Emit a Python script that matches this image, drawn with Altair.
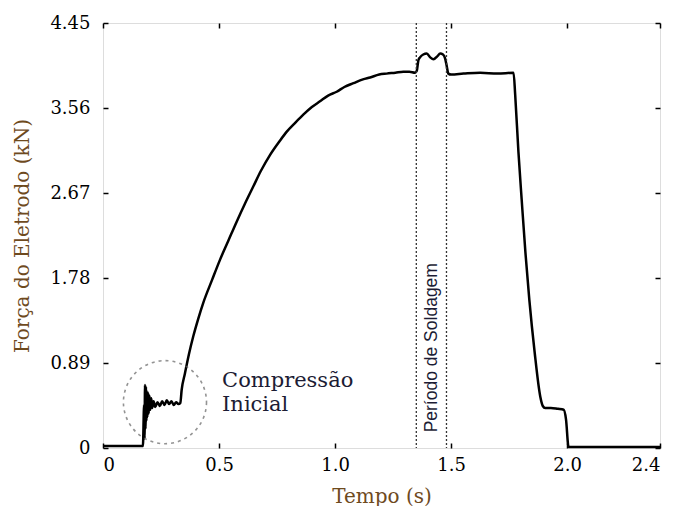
import altair as alt
import pandas as pd

# Force curve (time in s, force in kN)
time = [0.0, 0.10, 0.172, 0.177, 0.179, 0.181, 0.183, 0.185, 0.187, 0.189, 0.191, 0.194,
        0.197, 0.200, 0.204, 0.208, 0.212, 0.218, 0.225, 0.235, 0.245, 0.255, 0.265,
        0.275, 0.285, 0.295, 0.305, 0.315, 0.325, 0.333, 0.339, 0.353, 0.37, 0.389,
        0.41, 0.432, 0.47, 0.504, 0.54, 0.576, 0.61, 0.648, 0.68, 0.72, 0.76, 0.791,
        0.83, 0.863, 0.90, 0.935, 0.97, 1.007, 1.04, 1.079, 1.12, 1.151, 1.19, 1.222,
        1.26, 1.294, 1.32, 1.345, 1.352, 1.359, 1.366, 1.38, 1.395, 1.41, 1.424, 1.44,
        1.453, 1.465, 1.474, 1.481, 1.488, 1.50, 1.553, 1.625, 1.70, 1.769, 1.776,
        1.79, 1.804, 1.82, 1.837, 1.86, 1.884, 1.895, 1.905, 1.93, 1.96, 1.985, 1.995,
        2.006, 2.1, 2.2, 2.3, 2.4]
force = [0.02, 0.02, 0.02, 0.45, 0.10, 0.66, 0.20, 0.64, 0.28, 0.60, 0.32, 0.58,
         0.36, 0.55, 0.40, 0.52, 0.42, 0.49, 0.43, 0.48, 0.44, 0.49, 0.45,
         0.50, 0.46, 0.49, 0.45, 0.48, 0.46, 0.47, 0.61, 0.78, 0.98, 1.17,
         1.35, 1.52, 1.76, 1.97, 2.17, 2.37, 2.55, 2.74, 2.90, 3.07, 3.21, 3.31,
         3.41, 3.49, 3.57, 3.63, 3.69, 3.73, 3.78, 3.82, 3.86, 3.88, 3.91, 3.92,
         3.93, 3.94, 3.94, 3.93, 3.95, 4.06, 4.09, 4.12, 4.13, 4.09, 4.07, 4.10,
         4.13, 4.12, 4.08, 4.00, 3.92, 3.91, 3.92, 3.93, 3.92, 3.93, 3.70,
         3.10, 2.60, 2.05, 1.55, 1.00, 0.54, 0.44, 0.42, 0.42, 0.41, 0.40, 0.30,
         0.01, 0.01, 0.01, 0.01, 0.01]

# Welding period boundaries (s)
weld_bounds = [1.35, 1.48]

# Axis tick values
x_ticks = [0, 0.5, 1.0, 1.5, 2.0, 2.4]
y_ticks = [0, 0.89, 1.78, 2.67, 3.56, 4.45]

# Annotations
circle_t = [0.267]
circle_f = [0.48]
comp_lines = ["Compressão", "Inicial"]
comp_t = [0.513, 0.513]
comp_f = [0.70, 0.45]
weld_label = ["Período de Soldagem"]
weld_t = [1.418]
weld_f = [1.05]

curve = pd.DataFrame({"t": time, "f": force})
bounds = pd.DataFrame({"t": weld_bounds})
circ = pd.DataFrame({"t": circle_t, "f": circle_f})
comp = pd.DataFrame({"t": comp_t, "f": comp_f, "txt": comp_lines})
weld = pd.DataFrame({"t": weld_t, "f": weld_f, "txt": weld_label})

serif = "DejaVu Serif"
title_color = "#6e4a1e"
xs = alt.Scale(domain=[0, 2.4], nice=False, zero=False)
ys = alt.Scale(domain=[0, 4.45], nice=False, zero=False)

x_bottom = alt.Axis(values=x_ticks, labelExpr="datum.value == 0 ? '0' : format(datum.value, '.1f')",
                    offset=-5, tickSize=5, tickWidth=1.5, tickColor="black", domain=False, grid=False,
                    labelPadding=8, labelFont=serif, labelFontSize=18, labelColor="black",
                    title="Tempo (s)", titleFont=serif, titleFontSize=20, titleFontWeight="normal",
                    titleColor=title_color, titlePadding=12)
y_left = alt.Axis(values=y_ticks, labelExpr="datum.value == 0 ? '0' : format(datum.value, '.2f')",
                  offset=-5, tickSize=5, tickWidth=1.5, tickColor="black", domain=False, grid=False,
                  labelPadding=13, labelFont=serif, labelFontSize=18, labelColor="black",
                  title="Força do Eletrodo (kN)", titleFont=serif, titleFontSize=20,
                  titleFontWeight="normal", titleColor=title_color, titlePadding=17)
x_top = alt.Axis(values=x_ticks, orient="top", offset=-5, tickSize=5, tickWidth=1.5, tickColor="black",
                 domain=False, grid=False, labels=False, title=None)
y_right = alt.Axis(values=y_ticks, orient="right", offset=-5, tickSize=5, tickWidth=1.5, tickColor="black",
                   domain=False, grid=False, labels=False, title=None)

line = alt.Chart(curve).mark_line(color="black", strokeWidth=2.5, interpolate="monotone").encode(
    x=alt.X("t:Q", scale=xs, axis=x_bottom),
    y=alt.Y("f:Q", scale=ys, axis=y_left),
)

vlines = alt.Chart(bounds).mark_rule(color="#333333", strokeWidth=1.3, strokeDash=[2, 2]).encode(
    x=alt.X("t:Q", scale=xs, axis=None),
)

circle = alt.Chart(circ).mark_point(shape="circle", size=6900, filled=False, color="#666666",
                                    strokeWidth=1.6, strokeDash=[3, 4]).encode(
    x=alt.X("t:Q", scale=xs, axis=x_top),
    y=alt.Y("f:Q", scale=ys, axis=y_right),
)

comp_text = alt.Chart(comp).mark_text(align="left", baseline="middle", font=serif, fontSize=21,
                                      color="#1c1c34").encode(
    x=alt.X("t:Q", scale=xs, axis=None),
    y=alt.Y("f:Q", scale=ys, axis=None),
    text="txt:N",
)

weld_text = alt.Chart(weld).mark_text(align="center", baseline="middle", angle=270,
                                      font="Liberation Sans", fontSize=17.5, color="#1c1c34").encode(
    x=alt.X("t:Q", scale=xs, axis=None),
    y=alt.Y("f:Q", scale=ys, axis=None),
    text="txt:N",
)

chart = alt.layer(line, circle, vlines, comp_text, weld_text).resolve_axis(
    x="independent", y="independent"
).properties(
    width=557, height=425,
    autosize=alt.AutoSizeParams(type="none"),
    padding={"left": 95, "top": 15, "right": 7, "bottom": 58},
).configure_view(stroke="black", strokeWidth=2).configure(background="white")

chart.save("out.html", embed_options={"renderer": "svg", "actions": False})
